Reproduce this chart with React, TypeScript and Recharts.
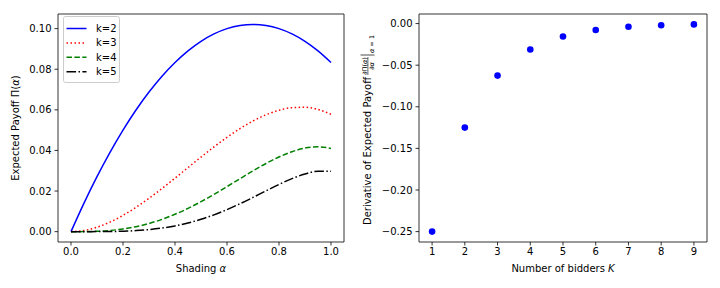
import React from "react"
import {
  LineChart,
  Line,
  ScatterChart,
  Scatter,
  XAxis,
  YAxis,
  ReferenceArea,
} from "recharts"

// shading alpha and expected payoff for each k
const alpha = [0, 0.05, 0.1, 0.15, 0.2, 0.25, 0.3, 0.35, 0.4, 0.45, 0.5, 0.55, 0.6, 0.65, 0.7, 0.75, 0.8, 0.85, 0.9, 0.95, 1.0]
const payoffK2 = [0, 0.01406, 0.02708, 0.03906, 0.05, 0.0599, 0.06875, 0.07656, 0.08333, 0.08906, 0.09375, 0.0974, 0.1, 0.10156, 0.10208, 0.10156, 0.1, 0.0974, 0.09375, 0.08906, 0.08333]
const payoffK3 = [0, 0.00057, 0.00218, 0.00471, 0.00801, 0.01196, 0.01642, 0.02126, 0.02635, 0.03154, 0.03671, 0.04173, 0.04645, 0.05076, 0.0545, 0.05756, 0.05979, 0.06106, 0.06124, 0.0602, 0.0578]
const payoffK4 = [0, 0.00002, 0.00018, 0.00058, 0.00132, 0.00245, 0.00402, 0.00606, 0.00855, 0.01147, 0.01477, 0.01837, 0.02219, 0.02609, 0.02994, 0.03357, 0.03679, 0.03939, 0.04114, 0.04176, 0.041]
const payoffK5 = [0, 0.000001, 0.000015, 0.00007, 0.00022, 0.00051, 0.00101, 0.00176, 0.00283, 0.00426, 0.00608, 0.00828, 0.01085, 0.01374, 0.01687, 0.02009, 0.02325, 0.02611, 0.0284, 0.02976, 0.0298]

// derivative of the payoff at alpha = 1 for K bidders
const bidders = [1, 2, 3, 4, 5, 6, 7, 8, 9]
const derivative = [-0.25, -0.125, -0.0625, -0.03125, -0.0156, -0.0078, -0.0039, -0.002, -0.001]

const shadingTicks = [0, 0.2, 0.4, 0.6, 0.8, 1.0]
const payoffTicks = [0, 0.02, 0.04, 0.06, 0.08, 0.1]
const bidderTicks = [1, 2, 3, 4, 5, 6, 7, 8, 9]
const derivTicks = [-0.25, -0.2, -0.15, -0.1, -0.05, 0]

const FONT = "'DejaVu Sans', sans-serif"

const series = [
  { key: "k2", name: "k=2", color: "#0000ff", dash: undefined },
  { key: "k3", name: "k=3", color: "#ff0000", dash: "1.5 2.5" },
  { key: "k4", name: "k=4", color: "#008000", dash: "5.5 2.4" },
  { key: "k5", name: "k=5", color: "#000000", dash: "9.6 2.4 1.5 2.4" },
]

const payoffData = alpha.map((a, i) => ({
  a,
  k2: payoffK2[i],
  k3: payoffK3[i],
  k4: payoffK4[i],
  k5: payoffK5[i],
}))

const derivData = bidders.map((k, i) => ({ k, d: derivative[i] }))

const tickStyle = { fill: "#000", fontSize: 10, fontFamily: FONT }
const tickLine = { stroke: "#000", strokeWidth: 0.8 }
const minus = (s: string) => s.replace("-", "\u2212")

// legend drawn by hand so it doesn't push the plot area around
const LegendBox = () => (
  <svg width={57} height={67} style={{ position: "absolute", left: 63, top: 16 }}>
    <rect x={0.5} y={0.5} width={56} height={66} rx={2} fill="rgba(255,255,255,0.8)" stroke="#cccccc" strokeWidth={1} />
    {series.map((s, i) => (
      <g key={s.key}>
        <line x1={3.5} x2={23.5} y1={12.5 + i * 14.4} y2={12.5 + i * 14.4} stroke={s.color} strokeWidth={1.5} strokeDasharray={s.dash} />
        <text x={33} y={16 + i * 14.4} fontSize={10} fontFamily={FONT} fill="#000">
          {s.name}
        </text>
      </g>
    ))}
  </svg>
)

function PayoffChart() {
  return (
    <LineChart width={360} height={288} data={payoffData} margin={{ top: 14, right: 16, bottom: 0, left: 0 }}>
      <XAxis
        dataKey="a"
        type="number"
        domain={[-0.05, 1.05]}
        allowDataOverflow
        ticks={shadingTicks}
        tickFormatter={(v: number) => v.toFixed(1)}
        height={46}
        axisLine={false}
        tickLine={tickLine}
        tickSize={3.5}
        tickMargin={2}
        tick={tickStyle}
      />
      <YAxis
        type="number"
        domain={[-0.0051, 0.1072]}
        allowDataOverflow
        ticks={payoffTicks}
        tickFormatter={(v: number) => v.toFixed(2)}
        width={58}
        axisLine={false}
        tickLine={tickLine}
        tickSize={3.5}
        tickMargin={3}
        tick={tickStyle}
      />
      {series.map((s) => (
        <Line
          key={s.key}
          dataKey={s.key}
          name={s.name}
          type="monotone"
          stroke={s.color}
          strokeWidth={1.5}
          strokeDasharray={s.dash}
          dot={false}
          isAnimationActive={false}
        />
      ))}
      <ReferenceArea x1={-0.05} x2={1.05} y1={-0.0051} y2={0.1072} fill="none" stroke="#000" strokeWidth={0.8} fillOpacity={0} />
    </LineChart>
  )
}

function DerivativeChart() {
  return (
    <ScatterChart width={360} height={288} margin={{ top: 14, right: 13, bottom: 0, left: 0 }}>
      <XAxis
        dataKey="k"
        type="number"
        domain={[0.6, 9.4]}
        allowDataOverflow
        ticks={bidderTicks}
        height={46}
        axisLine={false}
        tickLine={tickLine}
        tickSize={3.5}
        tickMargin={2}
        tick={tickStyle}
      />
      <YAxis
        dataKey="d"
        type="number"
        domain={[-0.2625, 0.0115]}
        allowDataOverflow
        ticks={derivTicks}
        tickFormatter={(v: number) => minus(v.toFixed(2))}
        width={59}
        axisLine={false}
        tickLine={tickLine}
        tickSize={3.5}
        tickMargin={3}
        tick={tickStyle}
      />
      <Scatter
        data={derivData}
        fill="#0000ff"
        isAnimationActive={false}
        shape={(p: any) => <circle cx={p.cx} cy={p.cy} r={3.3} fill="#0000ff" />}
      />
      <ReferenceArea x1={0.6} x2={9.4} y1={-0.2625} y2={0.0115} fill="none" stroke="#000" strokeWidth={0.8} fillOpacity={0} />
    </ScatterChart>
  )
}

function AxisTitles() {
  return (
    <svg width={720} height={288} style={{ position: "absolute", left: 0, top: 0, pointerEvents: "none" }}>
      <g fontFamily={FONT} fontSize={10} fill="#000">
        <text x={201} y={272} textAnchor="middle">
          Shading <tspan fontStyle="italic">α</tspan>
        </text>
        <text transform="translate(18.5,128) rotate(-90)" textAnchor="middle">
          Expected Payoff Π(<tspan fontStyle="italic">α</tspan>)
        </text>
        <text x={563} y={272} textAnchor="middle">
          Number of bidders <tspan fontStyle="italic">K</tspan>
        </text>
        <g transform="translate(370.5,225) rotate(-90)">
          <text x={0} y={0}>Derivative of Expected Payoff</text>
          <text x={159} y={-4} fontSize={6.5} textAnchor="middle">
            ∂Π(<tspan fontStyle="italic">α</tspan>)
          </text>
          <line x1={150} x2={168} y1={-2.6} y2={-2.6} stroke="#000" strokeWidth={0.6} />
          <text x={159} y={3.6} fontSize={6.5} textAnchor="middle">
            ∂<tspan fontStyle="italic">α</tspan>
          </text>
          <line x1={170} x2={170} y1={-10} y2={4} stroke="#000" strokeWidth={0.7} />
          <text x={172} y={3} fontSize={6.5}>
            <tspan fontStyle="italic">α</tspan> = 1
          </text>
        </g>
      </g>
    </svg>
  )
}

export default function App() {
  return (
    <div style={{ position: "absolute", left: 0, top: 0, width: 720, height: 288, background: "#fff" }}>
      <div style={{ position: "absolute", left: 0, top: 0 }}>
        <PayoffChart />
      </div>
      <div style={{ position: "absolute", left: 360, top: 0 }}>
        <DerivativeChart />
      </div>
      <LegendBox />
      <AxisTitles />
    </div>
  )
}
